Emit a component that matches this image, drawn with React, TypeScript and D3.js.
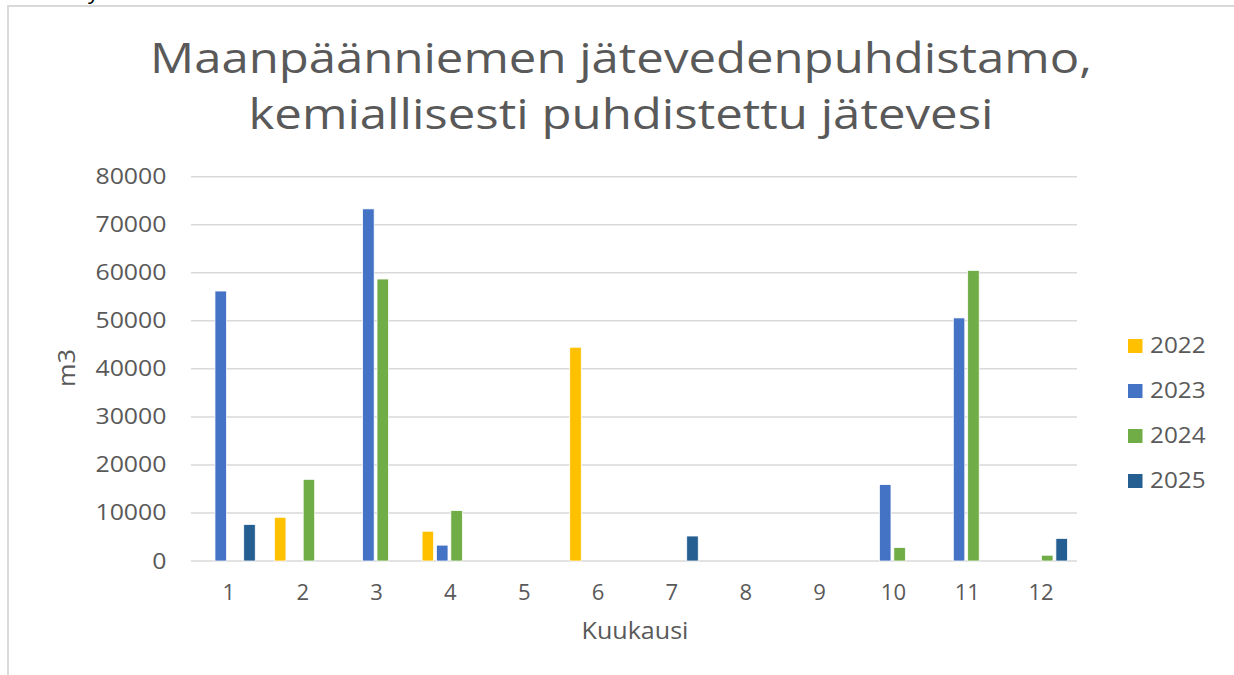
import React, { useEffect, useRef } from "react";
import * as d3 from "d3";

// kuukaudet ja vuosisarjat (m3), luettu kuvasta
const months = ["1", "2", "3", "4", "5", "6", "7", "8", "9", "10", "11", "12"];
const years = ["2022", "2023", "2024", "2025"];
const values2022 = [0, 9100, 0, 6200, 0, 44500, 0, 0, 0, 0, 0, 0];
const values2023 = [56200, 0, 73300, 3300, 0, 0, 0, 0, 0, 15900, 50600, 0];
const values2024 = [0, 17000, 58700, 10500, 0, 0, 0, 0, 0, 2800, 60500, 1200];
const values2025 = [7600, 0, 0, 0, 0, 0, 5200, 0, 0, 0, 0, 4700];
const yTicks = [0, 10000, 20000, 30000, 40000, 50000, 60000, 70000, 80000];
const colors = ["#FFC000", "#4472C4", "#70AD47", "#255E91"];

const titleLines = ["Maanpäänniemen jätevedenpuhdistamo,", "kemiallisesti puhdistettu jätevesi"];
const xTitle = "Kuukausi";
const yTitle = "m3";

export default function App() {
    const ref = useRef<SVGSVGElement>(null);

    useEffect(() => {
        let svg = d3.select(ref.current);
        svg.selectAll("*").remove();

        let width = 1234;
        let height = 675;
        let left = 191;
        let right = 1077;
        let top = 176.7;
        let bottom = 561;
        let textColor = "#595959";
        let font = "'Open Sans', sans-serif";
        let series = [values2022, values2023, values2024, values2025];

        // kehys
        svg.append("rect")
            .attr("x", 8).attr("y", 6)
            .attr("width", width + 10).attr("height", height + 10)
            .attr("fill", "white")
            .attr("stroke", "#d9d9d9").attr("stroke-width", 2);

        // katkennut teksti ylhäällä
        svg.append("text")
            .attr("x", 88).attr("y", -1)
            .attr("font-family", font).attr("font-size", 22)
            .attr("fill", "black")
            .text("y");

        let x0 = d3.scaleBand().domain(months).range([left, right]).paddingInner(0.26).paddingOuter(0.13);
        let x1 = d3.scaleBand().domain(years).range([0, x0.bandwidth()]).paddingInner(0.2);
        let y = d3.scaleLinear().domain([0, 80000]).range([bottom, top]);

        // ruudukko
        svg.append("g").selectAll("line").data(yTicks).enter().append("line")
            .attr("x1", left).attr("x2", right)
            .attr("y1", d => y(d)).attr("y2", d => y(d))
            .attr("stroke", "#d9d9d9").attr("stroke-width", 1.5);

        // y-akselin luvut
        svg.append("g").selectAll("g").data(yTicks).enter().append("g")
            .attr("transform", d => "translate(166.5," + (y(d) + 7.5) + ") scale(1.13,1)")
            .append("text")
            .attr("text-anchor", "end")
            .attr("font-family", font).attr("font-size", 22)
            .attr("fill", textColor)
            .text(d => String(d));

        // x-akselin luvut
        svg.append("g").selectAll("g").data(months).enter().append("g")
            .attr("transform", d => "translate(" + (x0(d)! + x0.bandwidth() / 2 + 1) + ",600) scale(1.05,1)")
            .append("text")
            .attr("text-anchor", "middle")
            .attr("font-family", font).attr("font-size", 21)
            .attr("fill", textColor)
            .text(d => d);

        // pylväät (nollia ei piirretä)
        series.forEach((vals, si) => {
            let bars = vals.map((v, i) => ({ month: months[i], value: v })).filter(d => d.value > 0);
            svg.append("g").selectAll("rect").data(bars).enter()
                .append("rect")
                .attr("x", d => x0(d.month)! + x1(years[si])!)
                .attr("y", d => y(d.value))
                .attr("width", x1.bandwidth())
                .attr("height", d => bottom - y(d.value))
                .attr("fill", colors[si])
                .attr("stroke", "white").attr("stroke-width", 0.75);
        });

        // otsikko
        titleLines.forEach((line, i) => {
            svg.append("text")
                .attr("x", 621).attr("y", 73 + i * 56)
                .attr("text-anchor", "middle")
                .attr("font-family", font).attr("font-size", 42)
                .attr("textLength", i === 0 ? 942 : 745)
                .attr("lengthAdjust", "spacingAndGlyphs")
                .attr("fill", textColor)
                .text(line);
        });

        // akselien otsikot
        svg.append("g")
            .attr("transform", "translate(635,639) scale(1.09,1)")
            .append("text")
            .attr("text-anchor", "middle")
            .attr("font-family", font).attr("font-size", 23)
            .attr("fill", textColor)
            .text(xTitle);

        svg.append("g")
            .attr("transform", "translate(75,368) rotate(-90) scale(1.1,1)")
            .append("text")
            .attr("text-anchor", "middle")
            .attr("font-family", font).attr("font-size", 23)
            .attr("fill", textColor)
            .text(yTitle);

        // selite
        let legend = svg.append("g").selectAll("g").data(years).enter().append("g")
            .attr("transform", (d, i) => "translate(1128," + (346 + i * 45) + ")");
        legend.append("rect")
            .attr("x", 0).attr("y", -7)
            .attr("width", 14.5).attr("height", 14)
            .attr("fill", (d, i) => colors[i]);
        legend.append("g")
            .attr("transform", "translate(22,7) scale(1.13,1)")
            .append("text")
            .attr("font-family", font).attr("font-size", 21.5)
            .attr("fill", textColor)
            .text(d => d);
    }, []);

    return (
        <svg ref={ref} width={1234} height={675}
             style={{ position: "absolute", left: 0, top: 0, background: "white" }} />
    );
}
